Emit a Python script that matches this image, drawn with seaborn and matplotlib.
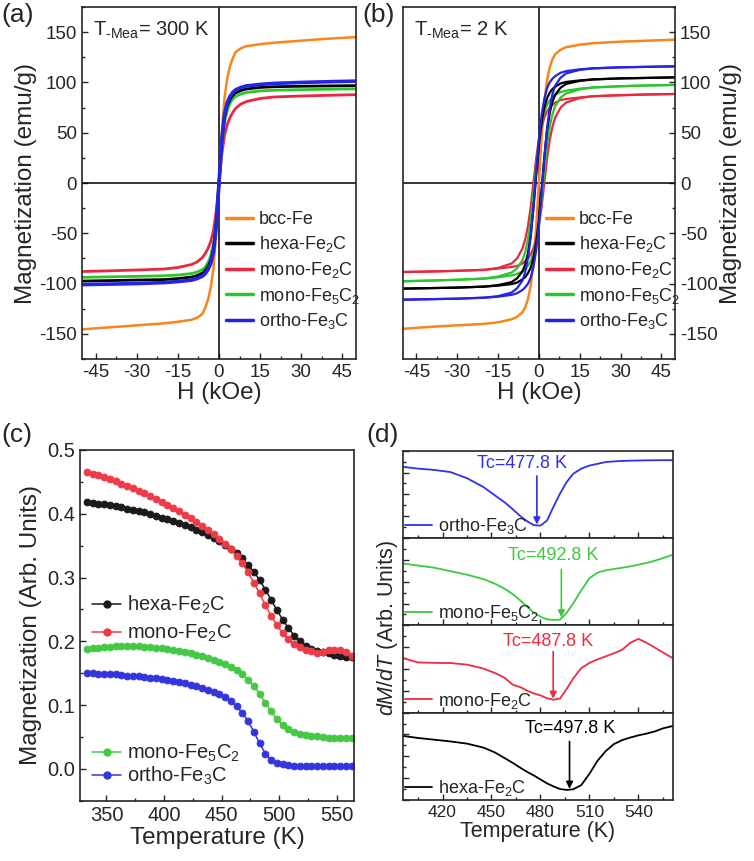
import numpy as np
import matplotlib
matplotlib.use("Agg")
import matplotlib.pyplot as plt
from matplotlib.ticker import MultipleLocator, NullFormatter
from matplotlib.lines import Line2D
import seaborn as sns

# ---------------- data ----------------
# (a) M-H loops at 300 K (no visible hysteresis)
h_kOe = [-50, -40, -30, -20, -15, -10, -8, -6, -5, -4, -3, -2, -1, 0,
         1, 2, 3, 4, 5, 6, 8, 10, 15, 20, 30, 40, 50]
m300_bcc = [-145.5, -143.5, -141.5, -139.5, -138, -136, -134, -130, -124, -116, -104, -84, -50, 0,
            50, 84, 104, 116, 124, 130, 134, 136, 138, 139.5, 141.5, 143.5, 145]
m300_hexa = [-97.5, -97, -96.5, -96, -95, -93.5, -92, -89.5, -87, -83, -77, -65, -40, 0,
             40, 65, 77, 83, 87, 89.5, 92, 93.5, 95, 95.7, 96.2, 96.5, 96.8]
m300_mono2 = [-88, -87.3, -86.5, -85.5, -84, -81, -78.5, -74, -70, -65, -58, -47, -28, 0,
              28, 47, 58, 65, 70, 74, 78.5, 81, 84, 85.5, 86.5, 87.2, 87.8]
m300_mono5 = [-93.8, -93.3, -92.8, -92.2, -91.5, -90, -88.5, -86, -83.5, -79, -72, -60, -36, 0,
              36, 60, 72, 79, 83.5, 86, 88.5, 90, 91.5, 92.2, 92.8, 93.2, 93.6]
m300_ortho = [-101, -100.5, -100, -99, -98, -96.5, -95, -92.5, -90, -86, -80, -68, -42, 0,
              42, 68, 80, 86, 90, 92.5, 95, 96.5, 98, 99, 100, 100.7, 101.3]

# (b) M-H loops at 2 K: ascending (up) and descending (down) branches
m2_bcc = [-145, -143, -141.5, -140, -138.5, -135.5, -133, -128.5, -123.5, -115.5, -102.5, -80, -45, 0,
          45, 80, 102, 115, 123, 128, 132.5, 135, 137.5, 139, 140.5, 141.5, 142.5]
m2_hexa_up = [-105, -104.5, -104, -103, -102, -100.5, -99, -95.7, -93.5, -89.8, -84.2, -75, -60.2, -37,
              -6.4, 25.6, 52, 69.8, 81, 87.8, 94.8, 98.5, 101.5, 103, 104, 104.5, 105]
m2_hexa_dn = [-105, -104.5, -104, -103, -101.5, -98.5, -94.8, -87.8, -81, -69.8, -52, -25.6, 6.4, 37,
              60.2, 75, 84.2, 89.8, 93.5, 95.7, 99, 100.5, 102, 103, 104, 104.5, 105]
m2_mono2_up = [-88.5, -88, -87.3, -86.3, -85, -83.5, -82.5, -80, -77.5, -75, -71, -65, -56, -43,
               -24, 0, 24, 43, 56, 65, 75, 80, 84.5, 86.3, 87.3, 88, 88.5]
m2_mono2_dn = [-88.5, -88, -87.3, -86.3, -84.5, -80, -75, -65, -56, -43, -24, 0, 24, 43,
               56, 65, 71, 75, 77.5, 80, 82.5, 83.5, 85, 86.3, 87.3, 88, 88.5]
m2_mono5_up = [-97.7, -97, -96.2, -95, -93.8, -91.8, -90.5, -87.6, -85.4, -82.4, -77.6, -70.4, -59, -41.2,
               -16.8, 11.2, 36.8, 56, 68.6, 76.4, 84.9, 89, 93, 95, 96.2, 97, 97.5]
m2_mono5_dn = [-97.7, -97, -96.2, -95, -93, -89, -84.9, -76.4, -68.6, -56, -36.8, -11.2, 16.8, 41.2,
               59, 70.4, 77.6, 82.4, 85.4, 87.6, 90.5, 91.8, 93.8, 95, 96.2, 97, 97.5]
m2_ortho_up = [-116, -115.5, -115, -114, -113, -111.2, -109.6, -106.3, -103.7, -100.2, -94.1, -83.6, -67.4, -43.1,
               -10.5, 24.5, 53.9, 74.6, 88.4, 96.9, 104.7, 108.9, 112.5, 114, 115, 115.5, 116]
m2_ortho_dn = [-116, -115.5, -115, -114, -112.5, -108.9, -104.7, -96.9, -88.4, -74.6, -53.9, -24.5, 10.5, 43.1,
               67.4, 83.6, 94.1, 100.2, 103.7, 106.3, 109.6, 111.2, 113, 114, 115, 115.5, 116]

# (c) M-T curves
temp_c = list(range(333, 564, 5))
mt_hexa = [0.418, 0.417, 0.416, 0.415, 0.413, 0.412, 0.410, 0.408, 0.406, 0.404, 0.402, 0.399,
           0.396, 0.394, 0.391, 0.388, 0.385, 0.382, 0.379, 0.375, 0.371, 0.367, 0.362, 0.357,
           0.351, 0.345, 0.338, 0.330, 0.320, 0.309, 0.296, 0.281, 0.265, 0.249, 0.234, 0.221,
           0.209, 0.200, 0.193, 0.188, 0.185, 0.183, 0.181, 0.179, 0.177, 0.176, 0.175]
mt_mono2 = [0.466, 0.463, 0.460, 0.457, 0.454, 0.451, 0.447, 0.444, 0.440, 0.436, 0.432, 0.428,
            0.423, 0.419, 0.414, 0.409, 0.404, 0.398, 0.393, 0.387, 0.381, 0.375, 0.368, 0.361,
            0.353, 0.344, 0.334, 0.322, 0.308, 0.292, 0.275, 0.257, 0.240, 0.225, 0.213, 0.203,
            0.196, 0.191, 0.187, 0.184, 0.182, 0.183, 0.186, 0.187, 0.186, 0.183, 0.177]
mt_mono5 = [0.188, 0.189, 0.190, 0.191, 0.191, 0.192, 0.192, 0.192, 0.192, 0.192, 0.191, 0.191,
            0.190, 0.189, 0.188, 0.186, 0.185, 0.183, 0.181, 0.179, 0.177, 0.174, 0.171, 0.168,
            0.164, 0.160, 0.155, 0.148, 0.140, 0.130, 0.118, 0.104, 0.090, 0.078, 0.069, 0.062,
            0.058, 0.055, 0.053, 0.052, 0.051, 0.050, 0.049, 0.048, 0.048, 0.048, 0.048]
mt_ortho = [0.150, 0.150, 0.149, 0.149, 0.148, 0.148, 0.147, 0.146, 0.146, 0.145, 0.144, 0.143,
            0.142, 0.141, 0.139, 0.138, 0.136, 0.134, 0.132, 0.130, 0.127, 0.124, 0.121, 0.117,
            0.112, 0.106, 0.098, 0.088, 0.075, 0.058, 0.040, 0.024, 0.014, 0.009, 0.007, 0.006,
            0.005, 0.005, 0.004, 0.004, 0.004, 0.004, 0.004, 0.004, 0.004, 0.004, 0.004]

# (d) dM/dT curves (arbitrary units, each panel 0..1)
temp_d = [396, 405, 415, 425, 435, 445, 452, 458, 463, 468, 472, 476, 480, 484, 488,
          492, 496, 500, 505, 510, 515, 520, 525, 530, 535, 540, 545, 550, 555, 561]
dmdt_ortho = [0.815, 0.795, 0.78, 0.755, 0.685, 0.585, 0.49, 0.41, 0.33, 0.245, 0.19, 0.148, 0.142, 0.20, 0.36,
              0.51, 0.64, 0.735, 0.795, 0.83, 0.85, 0.87, 0.878, 0.883, 0.886, 0.888, 0.89, 0.891, 0.892, 0.892]
dmdt_mono5 = [0.708, 0.685, 0.66, 0.62, 0.58, 0.53, 0.478, 0.42, 0.358, 0.28, 0.21, 0.145, 0.10, 0.068, 0.062,
              0.065, 0.142, 0.25, 0.40, 0.54, 0.605, 0.63, 0.645, 0.66, 0.675, 0.695, 0.715, 0.74, 0.77, 0.808]
dmdt_mono2 = [0.624, 0.575, 0.57, 0.568, 0.55, 0.505, 0.455, 0.40, 0.32, 0.29, 0.25, 0.22, 0.198, 0.165, 0.148,
              0.162, 0.27, 0.39, 0.51, 0.57, 0.61, 0.645, 0.68, 0.72, 0.80, 0.845, 0.80, 0.745, 0.69, 0.624]
dmdt_hexa = [0.733, 0.71, 0.69, 0.67, 0.645, 0.60, 0.545, 0.48, 0.425, 0.365, 0.32, 0.28, 0.235, 0.19, 0.155,
             0.125, 0.115, 0.122, 0.17, 0.30, 0.45, 0.56, 0.64, 0.685, 0.715, 0.74, 0.76, 0.785, 0.82, 0.847]
tc_values = [477.8, 492.8, 487.8, 497.8]

names_ab = ["bcc-Fe", "hexa-Fe$_2$C", "mono-Fe$_2$C", "mono-Fe$_5$C$_2$", "ortho-Fe$_3$C"]
names_cd = ["hexa-Fe$_2$C", "mono-Fe$_2$C", "mono-Fe$_5$C$_2$", "ortho-Fe$_3$C"]

# ---------------- style ----------------
sns.set_style("ticks")
plt.rcParams["font.family"] = ["Liberation Sans", "DejaVu Sans"]
plt.rcParams["mathtext.fontset"] = "custom"
plt.rcParams["mathtext.rm"] = "Liberation Sans"
plt.rcParams["mathtext.it"] = "Liberation Sans:italic"
plt.rcParams["mathtext.bf"] = "Liberation Sans:bold"
plt.rcParams["axes.linewidth"] = 1.2
plt.rcParams["axes.unicode_minus"] = False

c_org, c_blk, c_red, c_grn, c_blu = "#F7861C", "#000000", "#E9283F", "#2DC42D", "#2424E6"

fig = plt.figure(figsize=(7.54, 8.61), dpi=100)
ax_a = fig.add_axes([0.1088, 0.5830, 0.3633, 0.4089])
ax_b = fig.add_axes([0.5341, 0.5830, 0.3611, 0.4089])
ax_c = fig.add_axes([0.1061, 0.0700, 0.3634, 0.4074])
d_l, d_b, d_w, d_h = 0.5349, 0.0709, 0.3573, 0.4056
axes_d = [fig.add_axes([d_l, d_b + d_h * (3 - i) / 4, d_w, d_h / 4]) for i in range(4)]


def style_hyst(ax, temp_txt):
    ax.axhline(0, color="k", lw=1.1, zorder=1)
    ax.axvline(0, color="k", lw=1.1, zorder=1)
    ax.set_xlim(-50, 50)
    ax.set_ylim(-175, 175)
    ax.xaxis.set_major_locator(MultipleLocator(15))
    ax.xaxis.set_minor_locator(MultipleLocator(7.5))
    ax.yaxis.set_major_locator(MultipleLocator(50))
    ax.yaxis.set_minor_locator(MultipleLocator(25))
    ax.tick_params(which="both", direction="in", labelsize=13.5, width=1)
    ax.tick_params(which="major", length=4)
    ax.tick_params(which="minor", length=2)
    ax.set_xlabel("H (kOe)", fontsize=17.5, labelpad=1)
    ax.set_ylabel("Magnetization (emu/g)", fontsize=17.5, labelpad=2)
    ax.text(0.04, 0.965, "T$_{\\text{-Mea}}$= " + temp_txt, transform=ax.transAxes,
            va="top", ha="left", fontsize=14.5)
    handles = [Line2D([0], [0], color=c, lw=2.5) for c in [c_org, c_blk, c_red, c_grn, c_blu]]
    ax.legend(handles, names_ab, loc="upper left", bbox_to_anchor=(0.5, 0.44), frameon=False,
              fontsize=13, handlelength=1.5, handletextpad=0.3, labelspacing=0.32, borderaxespad=0)


# (a)
for m, c, lw in [(m300_bcc, c_org, 1.8), (m300_mono2, c_red, 2.0), (m300_mono5, c_grn, 2.0),
                 (m300_hexa, c_blk, 2.0), (m300_ortho, c_blu, 2.6)]:
    sns.lineplot(x=h_kOe, y=m, ax=ax_a, color=c, lw=lw, sort=False, estimator=None)
style_hyst(ax_a, "300 K")

# (b)
sns.lineplot(x=h_kOe, y=m2_bcc, ax=ax_b, color=c_org, lw=1.8, sort=False, estimator=None)
for up, dn, c in [(m2_mono2_up, m2_mono2_dn, c_red), (m2_mono5_up, m2_mono5_dn, c_grn),
                  (m2_hexa_up, m2_hexa_dn, c_blk), (m2_ortho_up, m2_ortho_dn, c_blu)]:
    sns.lineplot(x=h_kOe, y=up, ax=ax_b, color=c, lw=1.6, sort=False, estimator=None)
    sns.lineplot(x=h_kOe, y=dn, ax=ax_b, color=c, lw=1.6, sort=False, estimator=None)
style_hyst(ax_b, "2 K")
ax_b.yaxis.tick_right()
ax_b.yaxis.set_label_position("right")
ax_b.tick_params(axis="y", which="both", left=False, right=True)

# (c)
cols_c = ["#1a1a1a", "#EE3B48", "#45C945", "#3535E0"]
for m, c in zip([mt_hexa, mt_mono2, mt_mono5, mt_ortho], cols_c):
    sns.lineplot(x=temp_c, y=m, ax=ax_c, color=c, lw=1.1, marker="o", markersize=5,
                 markeredgecolor=c, markeredgewidth=0.6)
ax_c.set_xlim(327, 565)
ax_c.set_ylim(-0.05, 0.5)
ax_c.xaxis.set_major_locator(MultipleLocator(50))
ax_c.xaxis.set_minor_locator(MultipleLocator(25))
ax_c.yaxis.set_major_locator(MultipleLocator(0.1))
ax_c.yaxis.set_minor_locator(MultipleLocator(0.05))
ax_c.tick_params(which="both", direction="in", labelsize=14.5, width=1)
ax_c.tick_params(which="major", length=4)
ax_c.tick_params(which="minor", length=2)
ax_c.set_xlabel("Temperature (K)", fontsize=17.5, labelpad=2)
ax_c.set_ylabel("Magnetization (Arb. Units)", fontsize=17.5, labelpad=4)
hc = [Line2D([0], [0], color=c, lw=1.1, marker="o", markersize=5) for c in cols_c]
leg1 = ax_c.legend(hc[:2], names_cd[:2], loc="upper left", bbox_to_anchor=(0.0, 0.625), frameon=False,
                   fontsize=14.5, handlelength=1.45, handletextpad=0.3, labelspacing=0.35, borderaxespad=0.2)
ax_c.add_artist(leg1)
ax_c.legend(hc[2:], names_cd[2:], loc="upper left", bbox_to_anchor=(0.0, 0.2), frameon=False,
            fontsize=14.5, handlelength=1.45, handletextpad=0.3, labelspacing=0.05, borderaxespad=0.2)

# (d)
cols_d = ["#2F2FF0", "#3BCB3B", "#F02B40", "#000000"]
curves_d = [dmdt_ortho, dmdt_mono5, dmdt_mono2, dmdt_hexa]
names_d = ["ortho-Fe$_3$C", "mono-Fe$_5$C$_2$", "mono-Fe$_2$C", "hexa-Fe$_2$C"]
label_x = [468.4, 488.0, 484.8, 498.0]
label_y = [0.85, 0.80, 0.82, 0.82]
tail_y = [0.71, 0.64, 0.70, 0.67]
for i, ax in enumerate(axes_d):
    vals = curves_d[i]
    sns.lineplot(x=temp_d, y=vals, ax=ax, color=cols_d[i], lw=1.3)
    ax.set_xlim(396, 561)
    ax.set_ylim(0, 1)
    ax.xaxis.set_major_locator(MultipleLocator(30))
    ax.xaxis.set_minor_locator(MultipleLocator(15))
    ax.yaxis.set_major_locator(MultipleLocator(0.25))
    ax.yaxis.set_minor_locator(MultipleLocator(0.125))
    ax.yaxis.set_major_formatter(NullFormatter())
    ax.tick_params(which="both", direction="in", labelsize=12.5, width=1)
    ax.tick_params(which="major", length=4)
    ax.tick_params(which="minor", length=2)
    ax.set_ylabel("")
    if i < 3:
        ax.xaxis.set_major_formatter(NullFormatter())
    else:
        ax.set_xlabel("Temperature (K)", fontsize=15.5, labelpad=1)
    tc = tc_values[i]
    tip = np.interp(tc, temp_d, vals)
    ax.annotate("", xy=(tc, tip + 0.01), xytext=(tc, tail_y[i]),
                arrowprops=dict(arrowstyle="-|>", color=cols_d[i], lw=1.2, mutation_scale=10,
                                shrinkA=0, shrinkB=0))
    ax.text(label_x[i], label_y[i], f"Tc={tc} K", color=cols_d[i], ha="center", va="center",
            fontsize=13)
    ax.legend([Line2D([0], [0], color=cols_d[i], lw=1.3)], [names_d[i]], loc="lower left",
              bbox_to_anchor=(-0.02, -0.06), frameon=False, fontsize=13, handlelength=1.5,
              handletextpad=0.3, borderaxespad=0)

fig.text(388 / 754, 1 - 628 / 861, "$dM/dT$ (Arb. Units)", rotation=90, ha="center", va="center",
         fontsize=15.5)

# panel letters
fig.text(0.002, 0.983, "(a)", fontsize=19, va="center", ha="left")
fig.text(0.480, 0.983, "(b)", fontsize=19, va="center", ha="left")
fig.text(0.002, 0.495, "(c)", fontsize=19, va="center", ha="left")
fig.text(0.486, 0.495, "(d)", fontsize=19, va="center", ha="left")

fig.savefig("out.png", dpi=100)
